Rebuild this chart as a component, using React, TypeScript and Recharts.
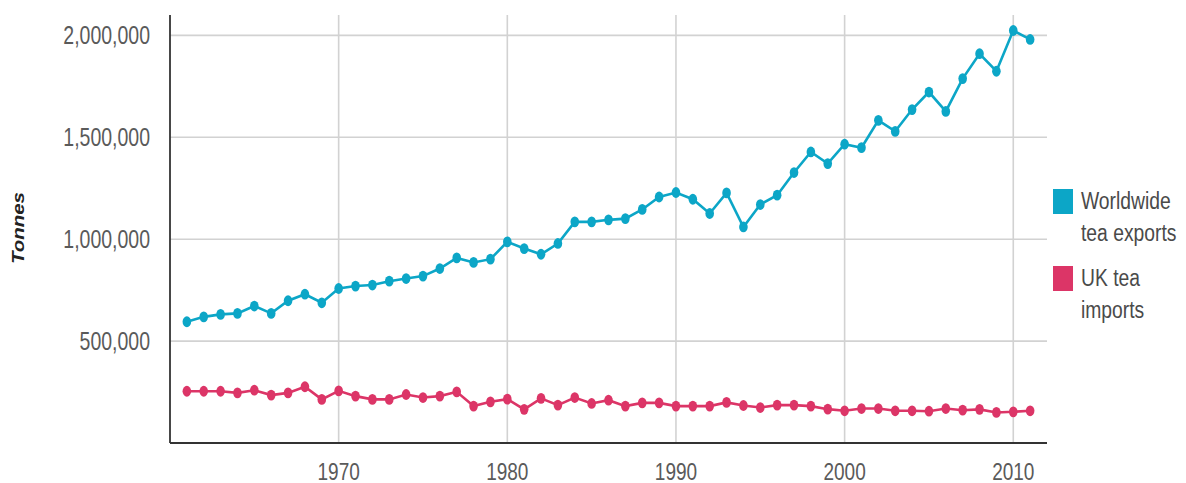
import React from "react";
import { LineChart, Line, XAxis, YAxis, CartesianGrid, Legend } from "recharts";

const years = [
  1961, 1962, 1963, 1964, 1965, 1966, 1967, 1968, 1969, 1970,
  1971, 1972, 1973, 1974, 1975, 1976, 1977, 1978, 1979, 1980,
  1981, 1982, 1983, 1984, 1985, 1986, 1987, 1988, 1989, 1990,
  1991, 1992, 1993, 1994, 1995, 1996, 1997, 1998, 1999, 2000,
  2001, 2002, 2003, 2004, 2005, 2006, 2007, 2008, 2009, 2010, 2011,
];

const worldwideExports = [
  595000, 619000, 631000, 636000, 672000, 636000, 698000, 730000, 688000, 758000,
  770000, 775000, 794000, 807000, 819000, 856000, 908000, 886000, 902000, 987000,
  954000, 926000, 979000, 1085000, 1085000, 1095000, 1101000, 1146000, 1207000, 1229000,
  1196000, 1126000, 1227000, 1060000, 1170000, 1216000, 1327000, 1428000, 1371000, 1466000,
  1449000, 1583000, 1529000, 1636000, 1722000, 1627000, 1788000, 1910000, 1824000, 2024000, 1980000,
];

const ukImports = [
  254000, 254000, 254000, 246000, 259000, 235000, 246000, 276000, 214000, 256000,
  230000, 214000, 214000, 238000, 223000, 230000, 251000, 181000, 202000, 215000,
  165000, 219000, 186000, 223000, 194000, 210000, 181000, 197000, 197000, 181000,
  181000, 181000, 199000, 184000, 174000, 186000, 186000, 181000, 166000, 158000,
  169000, 169000, 158000, 158000, 156000, 169000, 161000, 165000, 150000, 153000, 158000,
];

const xTicks = [1970, 1980, 1990, 2000, 2010];
const yTicks = [0, 500000, 1000000, 1500000, 2000000];

const seriesNames = ["Worldwide tea exports", "UK tea imports"];
const legendLines = [["Worldwide", "tea exports"], ["UK tea", "imports"]];

const BLUE = "#0ca6c7";
const RED = "#dc3567";
const FONT = "Arial, 'Liberation Sans', sans-serif";
const STRETCH = 1.28;

const data = years.map((year, i) => ({
  year,
  exports: worldwideExports[i],
  imports: ukImports[i],
}));

const fmt = (v: number) => v.toLocaleString("en-US");

const YTick = (props: any) => {
  const { x, y, payload } = props;
  if (payload.value === 0) return null;
  return (
    <g transform={`translate(${x - 12},${y}) scale(1,${STRETCH})`}>
      <text textAnchor="end" dy="0.36em" fontSize={19.5} fontFamily={FONT} fill="#5a5a5a">
        {fmt(payload.value)}
      </text>
    </g>
  );
};

const XTick = (props: any) => {
  const { x, y, payload } = props;
  return (
    <g transform={`translate(${x},${y + 20}) scale(1,${STRETCH})`}>
      <text textAnchor="middle" dy="0.36em" fontSize={19} fontFamily={FONT} fill="#5a5a5a">
        {payload.value}
      </text>
    </g>
  );
};

const makeDot = (color: string) => (props: any) => {
  const { cx, cy, index } = props;
  if (cx == null || cy == null) return null;
  return <ellipse key={index} cx={cx} cy={cy} rx={4.3} ry={5.4} fill={color} stroke="none" />;
};

const TonnesLabel = (props: any) => {
  const vb = props.viewBox || { x: 0, y: 15, width: 170, height: 428 };
  const cx = vb.x + 18;
  const cy = vb.y + vb.height / 2 - 1;
  return (
    <g transform={`translate(${cx},${cy}) scale(1,${STRETCH}) rotate(-90)`}>
      <text
        textAnchor="middle"
        dy="0.36em"
        fontSize={16}
        fontWeight="bold"
        fontStyle="italic"
        fontFamily={FONT}
        fill="#222"
      >
        Tonnes
      </text>
    </g>
  );
};

const LegendContent = () => {
  const colors = [BLUE, RED];
  const itemTops = [9, 86];
  return (
    <svg width={140} height={160} style={{ display: "block" }}>
      {seriesNames.map((name, i) => (
        <g key={name}>
          <rect x={0} y={itemTops[i]} width={20} height={25} fill={colors[i]} />
          {legendLines[i].map((line, j) => (
            <g
              key={line}
              transform={`translate(28,${itemTops[i] + 20 + j * 32}) scale(1,${STRETCH})`}
            >
              <text fontSize={19.3} fontFamily={FONT} fill="#4a4a4a">
                {line}
              </text>
            </g>
          ))}
        </g>
      ))}
    </svg>
  );
};

export default function App() {
  return (
    <div style={{ position: "absolute", left: 0, top: 0, width: 1186, height: 483, background: "#fff" }}>
      <LineChart
        width={1186}
        height={483}
        data={data}
        margin={{ top: 15, right: 139, bottom: 0, left: 0 }}
      >
        <CartesianGrid
          stroke="#d2d2d2"
          strokeWidth={1.6}
          verticalValues={xTicks}
          horizontalValues={yTicks}
        />
        <XAxis
          dataKey="year"
          type="number"
          domain={[1960, 2012]}
          ticks={xTicks}
          allowDataOverflow
          height={40}
          tickLine={false}
          axisLine={{ stroke: "#333", strokeWidth: 1.8 }}
          tick={<XTick />}
          interval={0}
        />
        <YAxis
          type="number"
          domain={[0, 2100000]}
          ticks={yTicks}
          allowDataOverflow
          width={170}
          tickLine={false}
          axisLine={{ stroke: "#333", strokeWidth: 1.8 }}
          tick={<YTick />}
          interval={0}
          label={<TonnesLabel />}
        />
        <Legend
          layout="vertical"
          verticalAlign="middle"
          align="center"
          content={<LegendContent />}
          wrapperStyle={{ left: 1053, top: 180, width: 140, height: 160, right: "auto", bottom: "auto" }}
        />
        <Line
          type="linear"
          dataKey="exports"
          name={seriesNames[0]}
          stroke={BLUE}
          strokeWidth={2.6}
          dot={makeDot(BLUE)}
          activeDot={false}
          isAnimationActive={false}
        />
        <Line
          type="linear"
          dataKey="imports"
          name={seriesNames[1]}
          stroke={RED}
          strokeWidth={2.6}
          dot={makeDot(RED)}
          activeDot={false}
          isAnimationActive={false}
        />
      </LineChart>
    </div>
  );
}
